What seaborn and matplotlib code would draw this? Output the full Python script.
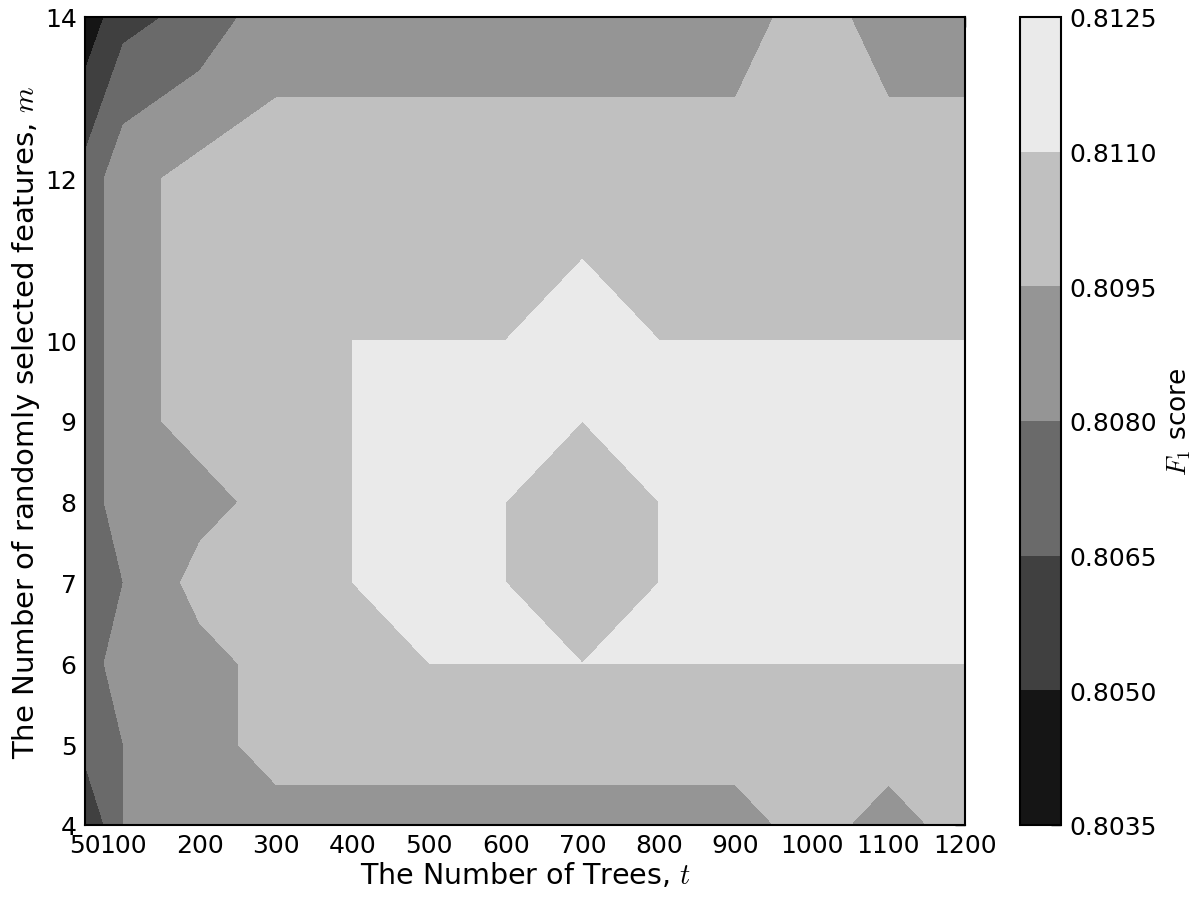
import numpy as np
import matplotlib
matplotlib.use("Agg")
import matplotlib.pyplot as plt
import seaborn as sns

# grid of the experiment: number of trees (t) and features per split (m)
trees = [50, 100, 200, 300, 400, 500, 600, 700, 800, 900, 1000, 1100, 1200]
features = [4, 5, 6, 7, 8, 9, 10, 12, 14]

# F1 score for each m (rows, bottom to top) and t (columns)
f1_m4 = [0.805, 0.808, 0.809, 0.809, 0.809, 0.809, 0.809, 0.809, 0.809, 0.809, 0.810, 0.809, 0.810]
f1_m5 = [0.807, 0.808, 0.809, 0.810, 0.810, 0.810, 0.810, 0.810, 0.810, 0.810, 0.810, 0.810, 0.810]
f1_m6 = [0.807, 0.809, 0.809, 0.810, 0.810, 0.811, 0.811, 0.811, 0.811, 0.811, 0.811, 0.811, 0.811]
f1_m7 = [0.807, 0.808, 0.810, 0.810, 0.811, 0.812, 0.811, 0.810, 0.811, 0.812, 0.812, 0.812, 0.812]
f1_m8 = [0.807, 0.809, 0.809, 0.810, 0.811, 0.812, 0.811, 0.810, 0.811, 0.812, 0.812, 0.812, 0.812]
f1_m9 = [0.807, 0.809, 0.810, 0.810, 0.811, 0.812, 0.812, 0.811, 0.812, 0.812, 0.812, 0.812, 0.812]
f1_m10 = [0.807, 0.809, 0.810, 0.810, 0.811, 0.811, 0.811, 0.812, 0.811, 0.811, 0.811, 0.811, 0.811]
f1_m12 = [0.807, 0.809, 0.810, 0.810, 0.810, 0.810, 0.810, 0.810, 0.810, 0.810, 0.810, 0.810, 0.810]
f1_m14 = [0.804, 0.806, 0.807, 0.809, 0.809, 0.809, 0.809, 0.809, 0.809, 0.809, 0.810, 0.809, 0.809]

levels = [0.8035, 0.8050, 0.8065, 0.8080, 0.8095, 0.8110, 0.8125]

sns.set_style("white")
plt.rcParams["font.family"] = ["DejaVu Sans"]
plt.rcParams["mathtext.fontset"] = "cm"
plt.rcParams["text.color"] = "black"
plt.rcParams["axes.labelcolor"] = "black"

Z = np.array([f1_m4, f1_m5, f1_m6, f1_m7, f1_m8, f1_m9, f1_m10, f1_m12, f1_m14])
T, M = np.meshgrid(trees, features)

# the original was drawn with intervals closed at the bottom, so nudge levels down a hair
lev = np.array(levels) - 1e-7

fig = plt.figure(figsize=(12, 9.03), dpi=100)
ax = fig.add_axes([85 / 1200, 77 / 903, 880 / 1200, 808 / 903])
cax = fig.add_axes([1020 / 1200, 77 / 903, 41 / 1200, 808 / 903])

cs = ax.contourf(T, M, Z, levels=lev, cmap="gray")

ax.set_xlim(trees[0], trees[-1])
ax.set_ylim(features[0], features[-1])
ax.set_xticks(trees)
ax.set_yticks(features)
ax.tick_params(direction="in", top=True, right=True, length=7, width=1,
               labelsize=18, colors="black", pad=6)
for sp in ax.spines.values():
    sp.set_linewidth(1.5)
    sp.set_color("black")
ax.set_xlabel("The Number of Trees, $t$", fontsize=20.5, labelpad=2)
ax.set_ylabel("The Number of randomly selected features, $m$", fontsize=21, labelpad=2)

cb = fig.colorbar(cs, cax=cax, ticks=lev)
cb.ax.set_yticklabels([f"{v:.4f}" for v in levels])
cb.ax.tick_params(direction="in", length=7, width=1, labelsize=18, colors="black", pad=6)
cb.outline.set_linewidth(1.5)
cb.outline.set_edgecolor("black")
cb.set_label("$F_1$ score", fontsize=19, labelpad=6)

fig.savefig("out.png", dpi=100)
